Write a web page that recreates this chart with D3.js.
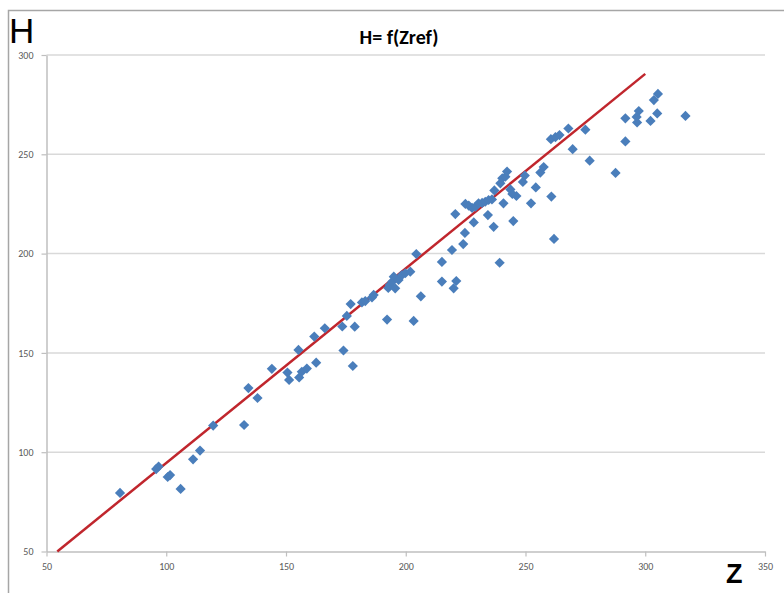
<!DOCTYPE html>
<html>
<head>
<meta charset="utf-8">
<script src="https://cdn.jsdelivr.net/npm/d3@7"></script>
<style>
    body { margin: 0; background: #fff; }
    svg { display: block; }
</style>
</head>
<body>
<div id="chart"></div>
<script>
//Data
var zValues = [80.7, 95.8, 96.8, 100.6, 101.6, 106.0, 111.2, 114.1, 119.6, 132.5,
    134.3, 138.1, 144.1, 150.6, 151.3, 155.2, 155.5, 156.6, 158.7, 161.8,
    162.6, 166.2, 174.0, 177.9, 173.5, 175.4, 178.7, 177.0, 181.7, 183.1,
    185.9, 186.6, 192.2, 192.7, 193.3, 194.4, 195.0, 197.0, 195.6, 198.4,
    199.8, 201.9, 203.3, 206.3, 204.4, 215.1, 215.1, 219.3, 220.0, 221.1,
    224.0, 224.7, 220.7, 228.4, 224.9, 226.3, 227.7, 229.1, 230.4, 231.9,
    233.2, 234.6, 236.0, 234.3, 236.7, 239.2, 237.0, 239.5, 240.3, 241.6,
    242.3, 240.8, 243.7, 244.5, 244.9, 246.2, 248.9, 249.7, 252.3, 254.3,
    256.2, 257.6, 260.8, 261.9, 260.6, 262.5, 264.2, 267.9, 275.0, 269.7,
    276.8, 287.6, 291.7, 291.7, 296.6, 297.3, 302.2, 305.0, 303.6, 305.3,
    316.8, 296.4];

var hValues = [79.5, 91.5, 92.8, 87.5, 88.5, 81.5, 96.4, 100.8, 113.4, 113.7,
    132.3, 127.3, 142.0, 140.1, 136.4, 151.5, 137.6, 140.5, 142.1, 158.2,
    145.1, 162.4, 151.2, 143.4, 163.3, 168.6, 163.2, 174.6, 175.4, 176.1,
    177.9, 179.2, 166.8, 182.7, 184.2, 185.9, 188.4, 186.7, 182.5, 189.2,
    190.1, 190.9, 166.1, 178.5, 199.8, 195.8, 185.9, 201.8, 182.5, 186.2,
    204.8, 210.4, 219.9, 215.7, 225.0, 224.2, 223.0, 223.6, 225.3, 225.5,
    226.1, 227.0, 227.3, 219.4, 213.5, 195.4, 231.8, 235.4, 237.9, 238.7,
    241.3, 225.3, 232.3, 230.0, 216.4, 229.0, 236.1, 239.3, 225.3, 233.3,
    240.8, 243.6, 228.7, 207.4, 257.6, 258.6, 259.7, 263.0, 262.4, 252.6,
    246.8, 240.6, 256.5, 268.1, 266.0, 271.8, 266.8, 270.6, 277.3, 280.4,
    269.3, 268.8];

//Red reference line
var fitZ = [54.5, 300];
var fitH = [50, 290.5];

var xTicks = [50, 100, 150, 200, 250, 300, 350];
var yTicks = [50, 100, 150, 200, 250, 300];

var w = 784;
var h = 593;

var svg = d3.select("#chart")
    .append("svg")
    .attr("width", w)
    .attr("height", h);

//Outer frame
svg.append("rect")
    .attr("x", 8.5)
    .attr("y", 10.5)
    .attr("width", w + 20)
    .attr("height", h + 20)
    .attr("fill", "none")
    .attr("stroke", "#a6a6a6")
    .attr("stroke-width", 1.5);

//Scales
var x = d3.scaleLinear().domain([50, 350]).range([46.5, 765]);
var y = d3.scaleLinear().domain([50, 300]).range([551.5, 55]);

//Gridlines
svg.append("g")
    .selectAll("line")
    .data(yTicks.slice(1))
    .join("line")
    .attr("x1", x(50))
    .attr("x2", x(350))
    .attr("y1", d => y(d))
    .attr("y2", d => y(d))
    .attr("stroke", "#d9d9d9")
    .attr("stroke-width", 1.5);

//Axes
var xAxis = svg.append("g")
    .attr("transform", `translate(0,${y(50)})`)
    .call(d3.axisBottom(x).tickValues(xTicks).tickSize(5).tickSizeOuter(0).tickPadding(6));

var yAxis = svg.append("g")
    .attr("transform", `translate(${x(50)},0)`)
    .call(d3.axisLeft(y).tickValues(yTicks).tickSize(5).tickSizeOuter(0).tickPadding(8));

[xAxis, yAxis].forEach(a => {
    a.select(".domain").attr("stroke", "#bfbfbf").attr("stroke-width", 1.5);
    a.selectAll(".tick line").attr("stroke", "#bfbfbf").attr("stroke-width", 1.2);
    a.selectAll(".tick text")
        .attr("fill", "#595959")
        .style("font-family", "Carlito, 'Liberation Sans', sans-serif")
        .style("font-size", "10px");
});

//Red line
svg.append("path")
    .datum(d3.zip(fitZ, fitH))
    .attr("fill", "none")
    .attr("stroke", "#c0262d")
    .attr("stroke-width", 2.5)
    .attr("d", d3.line().x(d => x(d[0])).y(d => y(d[1])));

//Diamond markers
svg.append("g")
    .selectAll("path")
    .data(d3.zip(zValues, hValues))
    .join("path")
    .attr("d", d3.symbol(d3.symbolSquare, 52))
    .attr("transform", d => `translate(${x(d[0])},${y(d[1])}) rotate(45)`)
    .attr("fill", "#4a7ebb");

//Title
svg.append("text")
    .attr("x", 399)
    .attr("y", 44)
    .attr("text-anchor", "middle")
    .style("font-family", "Carlito, 'Liberation Sans', sans-serif")
    .style("font-weight", "bold")
    .style("font-size", "20px")
    .text("H= f(Zref)");

//Axis names
svg.append("text")
    .attr("x", 9)
    .attr("y", 43)
    .style("font-family", "'Liberation Sans', Arial, sans-serif")
    .style("font-size", "35px")
    .text("H");

svg.append("text")
    .attr("x", 726)
    .attr("y", 583)
    .style("font-family", "'Liberation Sans', Arial, sans-serif")
    .style("font-weight", "bold")
    .style("font-size", "27px")
    .text("Z");
</script>
</body>
</html>
